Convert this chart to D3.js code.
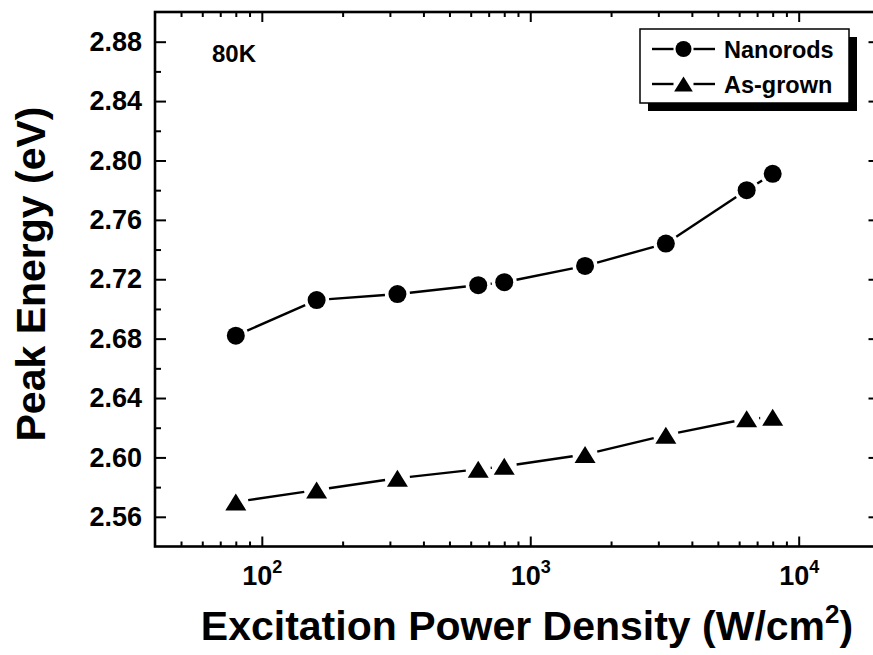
<!DOCTYPE html>
<html>
<head>
<meta charset="utf-8">
<script src="https://cdn.jsdelivr.net/npm/d3@7"></script>
<style>
  html, body { margin: 0; padding: 0; background: #fff; }
  svg { display: block; font-family: "Liberation Sans", Arial, Helvetica, sans-serif; font-weight: bold; }
</style>
</head>
<body>
<svg id="chart" width="873" height="655"></svg>
<script>
// Excitation power density (W/cm^2)
const power = [80, 160, 320, 640, 800, 1600, 3200, 6400, 8000];
// Peak energy (eV) for each sample
const nanorods = [2.682, 2.706, 2.710, 2.716, 2.718, 2.729, 2.744, 2.780, 2.791];
const asGrown  = [2.570, 2.578, 2.586, 2.592, 2.594, 2.602, 2.615, 2.626, 2.627];

const seriesNames = ["Nanorods", "As-grown"];

// Axis ticks
const xMajorTicks = [100, 1000, 10000];
const xMinorTicks = [50, 60, 70, 80, 90, 200, 300, 400, 500, 600, 700, 800, 900,
                     2000, 3000, 4000, 5000, 6000, 7000, 8000, 9000];
const yMajorTicks = [2.56, 2.60, 2.64, 2.68, 2.72, 2.76, 2.80, 2.84, 2.88];
const yMinorTicks = [2.58, 2.62, 2.66, 2.70, 2.74, 2.78, 2.82, 2.86];
const yTickLabels = yMajorTicks.map(v => v.toFixed(2));

const svg = d3.select("#chart");
const plotLeft = 155, plotRight = 879.5, plotTop = 12, plotBottom = 546.5;

const x = d3.scaleLog().domain([40, 20000]).range([plotLeft, plotRight]);
const y = d3.scaleLinear().domain([2.54, 2.90]).range([plotBottom, plotTop]);

function styleTicks(g, w) {
  g.select(".domain").remove();
  g.selectAll(".tick line").attr("stroke", "#000").attr("stroke-width", w);
}

// bottom axis: major ticks with 10^n labels, minor ticks
const gxMinor = svg.append("g").attr("transform", `translate(0,${plotBottom})`)
  .call(d3.axisBottom(x).tickValues(xMinorTicks).tickSize(-5).tickFormat(""));
styleTicks(gxMinor, 2);
const gx = svg.append("g").attr("transform", `translate(0,${plotBottom})`)
  .call(d3.axisBottom(x).tickValues(xMajorTicks).tickSize(-10).tickPadding(19));
styleTicks(gx, 2);
gx.selectAll(".tick text")
  .attr("fill", "#000").attr("font-size", 27).attr("font-family", null)
  .each(function(d) {
    const t = d3.select(this);
    t.text("10");
    t.append("tspan").attr("dy", -12).attr("font-size", 18).text(Math.round(Math.log10(d)));
  });

// top axis (no labels)
const gtMinor = svg.append("g").attr("transform", `translate(0,${plotTop})`)
  .call(d3.axisTop(x).tickValues(xMinorTicks).tickSize(-5).tickFormat(""));
styleTicks(gtMinor, 2);
const gt = svg.append("g").attr("transform", `translate(0,${plotTop})`)
  .call(d3.axisTop(x).tickValues(xMajorTicks).tickSize(-10).tickFormat(""));
styleTicks(gt, 2);

// left axis
const gyMinor = svg.append("g").attr("transform", `translate(${plotLeft},0)`)
  .call(d3.axisLeft(y).tickValues(yMinorTicks).tickSize(-6).tickFormat(""));
styleTicks(gyMinor, 2);
const gy = svg.append("g").attr("transform", `translate(${plotLeft},0)`)
  .call(d3.axisLeft(y).tickValues(yMajorTicks).tickSize(-11).tickPadding(13)
        .tickFormat((d, i) => yTickLabels[i]));
styleTicks(gy, 2);
gy.selectAll(".tick text").attr("fill", "#000").attr("font-size", 27).attr("font-family", null);

// right axis (no labels)
const grMinor = svg.append("g").attr("transform", `translate(${plotRight},0)`)
  .call(d3.axisRight(y).tickValues(yMinorTicks).tickSize(-6).tickFormat(""));
styleTicks(grMinor, 2);
const gr = svg.append("g").attr("transform", `translate(${plotRight},0)`)
  .call(d3.axisRight(y).tickValues(yMajorTicks).tickSize(-11).tickFormat(""));
styleTicks(gr, 2);

// frame
svg.append("rect")
  .attr("x", plotLeft).attr("y", plotTop)
  .attr("width", plotRight - plotLeft).attr("height", plotBottom - plotTop)
  .attr("fill", "none").attr("stroke", "#000").attr("stroke-width", 2.6);

// markers
const triPath = "M0,-8.5L10.5,8.5L-10.5,8.5Z";
function drawMarker(g, type, cx, cy, r) {
  if (type === "circle") {
    g.append("circle").attr("cx", cx).attr("cy", cy).attr("r", r).attr("fill", "#000");
  } else {
    g.append("path").attr("d", triPath)
      .attr("transform", `translate(${cx},${cy}) scale(${r / 9})`).attr("fill", "#000");
  }
}

// connecting segments that stop short of each marker
const gap = 12.5;
function drawSeries(values, type) {
  const g = svg.append("g");
  const pts = power.map((p, i) => [x(p), y(values[i])]);
  for (let i = 0; i < pts.length - 1; i++) {
    const [x1, y1] = pts[i], [x2, y2] = pts[i + 1];
    const dx = x2 - x1, dy = y2 - y1, len = Math.hypot(dx, dy);
    if (len <= 2 * gap) continue;
    const ux = dx / len, uy = dy / len;
    g.append("line")
      .attr("x1", x1 + ux * gap).attr("y1", y1 + uy * gap)
      .attr("x2", x2 - ux * gap).attr("y2", y2 - uy * gap)
      .attr("stroke", "#000").attr("stroke-width", 2.4);
  }
  pts.forEach(([cx, cy]) => drawMarker(g, type, cx, cy, 9));
}
drawSeries(nanorods, "circle");
drawSeries(asGrown, "triangle");

// temperature note
svg.append("text").attr("x", 212).attr("y", 61.5)
  .attr("font-size", 24).text("80K");

// legend
const lg = svg.append("g");
const lx = 640, ly = 29, lw = 209, lh = 74;
lg.append("rect").attr("x", lx + 8).attr("y", ly + 8).attr("width", lw).attr("height", lh).attr("fill", "#000");
lg.append("rect").attr("x", lx).attr("y", ly).attr("width", lw).attr("height", lh)
  .attr("fill", "#fff").attr("stroke", "#000").attr("stroke-width", 1.5);
const legendRows = [
  { name: seriesNames[0], type: "circle", cy: 49 },
  { name: seriesNames[1], type: "triangle", cy: 84 }
];
legendRows.forEach(r => {
  const mx = 683.5;
  lg.append("line").attr("x1", 652).attr("x2", mx - 10).attr("y1", r.cy).attr("y2", r.cy)
    .attr("stroke", "#000").attr("stroke-width", 2.4);
  lg.append("line").attr("x1", mx + 10).attr("x2", 715).attr("y1", r.cy).attr("y2", r.cy)
    .attr("stroke", "#000").attr("stroke-width", 2.4);
  drawMarker(lg, r.type, mx, r.cy, 8);
  lg.append("text").attr("x", 724).attr("y", r.cy + 8.5).attr("font-size", 23.5).text(r.name);
});

// axis titles
svg.append("text")
  .attr("transform", `translate(45,274) rotate(-90)`)
  .attr("text-anchor", "middle").attr("font-size", 41)
  .text("Peak Energy (eV)");

const xt = svg.append("text")
  .attr("x", 527).attr("y", 640)
  .attr("text-anchor", "middle").attr("font-size", 41)
  .text("Excitation Power Density (W/cm");
xt.append("tspan").attr("dy", -17).attr("font-size", 26).text("2");
xt.append("tspan").attr("dy", 17).text(")");
</script>
</body>
</html>
